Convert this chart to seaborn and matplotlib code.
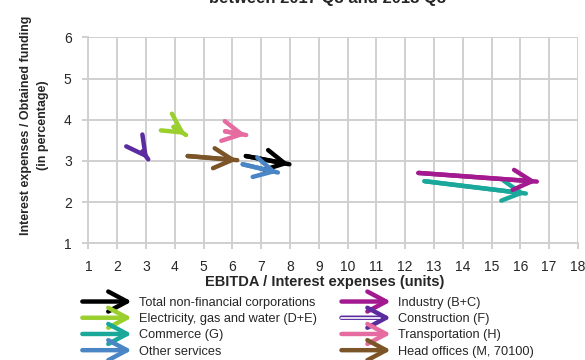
import numpy as np
import pandas as pd
import matplotlib
matplotlib.use('Agg')
import matplotlib.pyplot as plt
import seaborn as sns
from matplotlib.patches import FancyArrowPatch
from matplotlib.legend_handler import HandlerBase
from matplotlib.lines import Line2D

# Données : position 2017 Q3 -> 2018 Q3 par secteur
sectors = ['Total non-financial corporations', 'Electricity, gas and water (D+E)',
           'Commerce (G)', 'Other services', 'Industry (B+C)', 'Construction (F)',
           'Transportation (H)', 'Head offices (M, 70100)']
ebitda_2017 = [6.47, 3.96, 12.67, 6.36, 12.46, 2.88, 5.75, 4.45]
rate_2017 = [3.12, 3.83, 2.51, 2.92, 2.71, 3.23, 3.72, 3.12]
ebitda_2018 = [7.98, 4.39, 16.19, 7.58, 16.57, 3.08, 6.48, 6.17]
rate_2018 = [2.92, 3.63, 2.21, 2.72, 2.50, 3.04, 3.63, 3.02]
colors = ['#000000', '#9BCF2E', '#1AA89A', '#4A86C5', '#A3198F', '#5B2C9F',
          '#E56BA0', '#7B5428']
x_ticks = list(range(1, 19))
y_ticks = list(range(1, 7))

sns.set_style('white')
plt.rcParams['font.family'] = ['Liberation Sans', 'DejaVu Sans']

df = pd.DataFrame({
    'sector': sectors * 2,
    'ebitda': ebitda_2017 + ebitda_2018,
    'rate': rate_2017 + rate_2018,
    'period': ['2017 Q3'] * 8 + ['2018 Q3'] * 8,
})
palette = dict(zip(sectors, colors))
ARROW = '->,head_length=1.35,head_width=0.72'

fig = plt.figure(figsize=(5.85, 3.6), dpi=100)
ax = fig.add_axes([0.151, 0.324, 0.837, 0.572])

sns.lineplot(data=df, x='ebitda', y='rate', hue='sector', palette=palette,
             units='sector', estimator=None, sort=False, lw=3.2, legend=False,
             solid_capstyle='round', ax=ax)

# têtes de flèche
for i in range(len(sectors)):
    ax.annotate('', xy=(ebitda_2018[i], rate_2018[i]),
                xytext=(ebitda_2017[i], rate_2017[i]),
                arrowprops=dict(arrowstyle=ARROW, mutation_scale=10, lw=3.2,
                                color=colors[i], shrinkA=0, shrinkB=0,
                                capstyle='round'))

ax.set_xlim(1, 18)
ax.set_ylim(1, 6)
ax.set_xticks(x_ticks)
ax.set_yticks(y_ticks)
ax.grid(True, color='#D0D0D0', lw=1.4)
for s in ['top', 'right']:
    ax.spines[s].set_visible(False)
for s in ['left', 'bottom']:
    ax.spines[s].set_color('#D0D0D0')
    ax.spines[s].set_linewidth(1.4)
ax.tick_params(axis='both', length=4, width=1.4, color='#D0D0D0',
               labelsize=10, direction='out', bottom=True, left=True)
ax.tick_params(axis='y', pad=8)
ax.tick_params(axis='x', pad=8)

ax.set_xlabel('EBITDA / Interest expenses (units)', fontsize=10.5,
              fontweight='bold')
ax.xaxis.set_label_coords(0.483, -0.152)
ax.set_ylabel('Interest expenses / Obtained funding\n(in percentage)',
              fontsize=9, fontweight='bold', linespacing=1.6)
ax.yaxis.set_label_coords(-0.08, 0.575)

fig.text(0.56, 1 - 2.5 / 360, 'between 2017 Q3 and 2018 Q3', ha='center',
         va='baseline', fontsize=12, fontweight='bold')


class ArrowHandler(HandlerBase):
    def create_artists(self, legend, orig_handle, xdescent, ydescent,
                       width, height, fontsize, trans):
        y = height / 2 - ydescent
        c = orig_handle.get_color()
        arr = FancyArrowPatch((-xdescent, y), (width - xdescent, y),
                              arrowstyle=ARROW, mutation_scale=10, lw=3.2,
                              color=c, transform=trans)
        artists = [arr]
        if orig_handle.get_linestyle() == '--':
            # construction : trait creux
            inner = Line2D([-xdescent + 2, width - xdescent - 10], [y, y],
                           color='white', lw=1.2, transform=trans)
            artists.append(inner)
        return artists


handles = [Line2D([], [], color=c, ls='--' if s == 'Construction (F)' else '-')
           for s, c in zip(sectors, colors)]
fig.legend(handles, sectors, handler_map={Line2D: ArrowHandler()},
           loc='upper left', bbox_to_anchor=(0.136, 0.175), ncol=2,
           frameon=False, fontsize=9.2, handlelength=4.3, handletextpad=0.35,
           columnspacing=1.7, labelspacing=0.33, borderpad=0, borderaxespad=0)

fig.savefig('out.png', dpi=100)
